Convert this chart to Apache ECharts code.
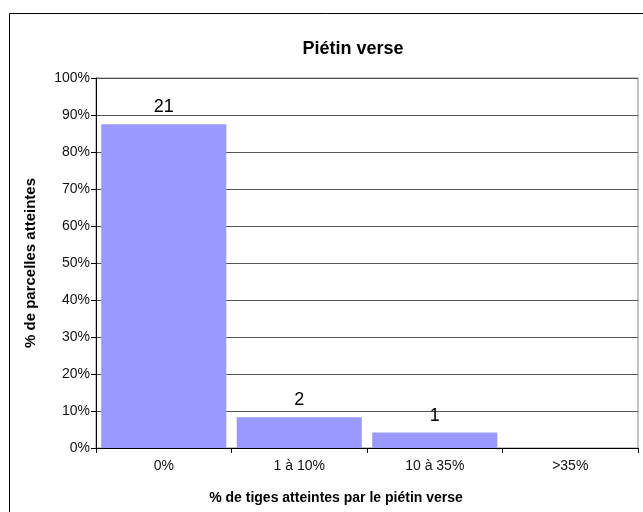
<!DOCTYPE html>
<html>
<head>
<meta charset="utf-8">
<script src="https://cdn.jsdelivr.net/npm/echarts@6/dist/echarts.min.js"></script>
<style>
  html, body { margin: 0; padding: 0; background: #fff; }
  #chart { width: 643px; height: 512px; }
</style>
</head>
<body>
<div id="chart"></div>
<script>
// Classes of infected stems and the share of plots in each
const categories = ['0%', '1 à 10%', '10 à 35%', '>35%'];
const plotCounts = [21, 2, 1, 0];
const plotShares = [87.5, 8.33, 4.17, 0]; // % of the 24 plots
const yTicks = [0, 10, 20, 30, 40, 50, 60, 70, 80, 90, 100];

const chart = echarts.init(document.getElementById('chart'));
const font = '"Liberation Sans", Arial, sans-serif';

chart.setOption({
  animation: false,
  textStyle: { fontFamily: font },
  graphic: [
    {
      // chart frame, only its left and top edges are in view
      type: 'rect',
      shape: { x: 9.5, y: 13.5, width: 700, height: 600 },
      style: { fill: 'none', stroke: '#000', lineWidth: 1 },
      silent: true
    }
  ],
  title: [
    {
      text: 'Piétin verse',
      left: 348,
      top: 35,
      textAlign: 'center',
      textStyle: { fontFamily: font, fontSize: 18, fontWeight: 'bold', color: '#000' }
    },
    {
      text: '% de tiges atteintes par le piétin verse',
      left: 331,
      top: 486,
      textAlign: 'center',
      textStyle: { fontFamily: font, fontSize: 14, fontWeight: 'bold', color: '#000' }
    }
  ],
  grid: {
    left: 96,
    right: 5,
    top: 78,
    bottom: 64,
    show: true,
    borderColor: '#888',
    borderWidth: 1
  },
  xAxis: {
    type: 'category',
    data: categories,
    axisLine: { lineStyle: { color: '#000', width: 1 } },
    axisTick: { show: true, length: 5, lineStyle: { color: '#000' } },
    axisLabel: { color: '#111', fontSize: 14, margin: 11, fontFamily: font }
  },
  yAxis: {
    type: 'value',
    min: 0,
    max: 100,
    interval: 10,
    name: '% de parcelles atteintes',
    nameLocation: 'middle',
    nameGap: 58,
    nameRotate: 90,
    nameTextStyle: { fontFamily: font, fontSize: 15, fontWeight: 'bold', color: '#000' },
    axisLine: { show: true, lineStyle: { color: '#000', width: 1 } },
    axisTick: { show: true, length: 5, lineStyle: { color: '#000' } },
    axisLabel: {
      color: '#111',
      fontSize: 14,
      margin: 6,
      fontFamily: font,
      formatter: (v) => (yTicks.includes(v) ? v + '%' : '')
    },
    splitLine: { show: true, lineStyle: { color: '#555', width: 1 } }
  },
  series: [
    {
      type: 'bar',
      data: plotShares.map((v, i) => ({ value: v, count: plotCounts[i] })),
      barCategoryGap: '7.7%',
      itemStyle: { color: '#9999ff' },
      label: {
        show: true,
        position: 'top',
        distance: 8,
        color: '#000',
        fontSize: 18,
        fontFamily: font,
        formatter: (p) => (p.data.count > 0 ? String(p.data.count) : '')
      }
    }
  ]
});
</script>
</body>
</html>
